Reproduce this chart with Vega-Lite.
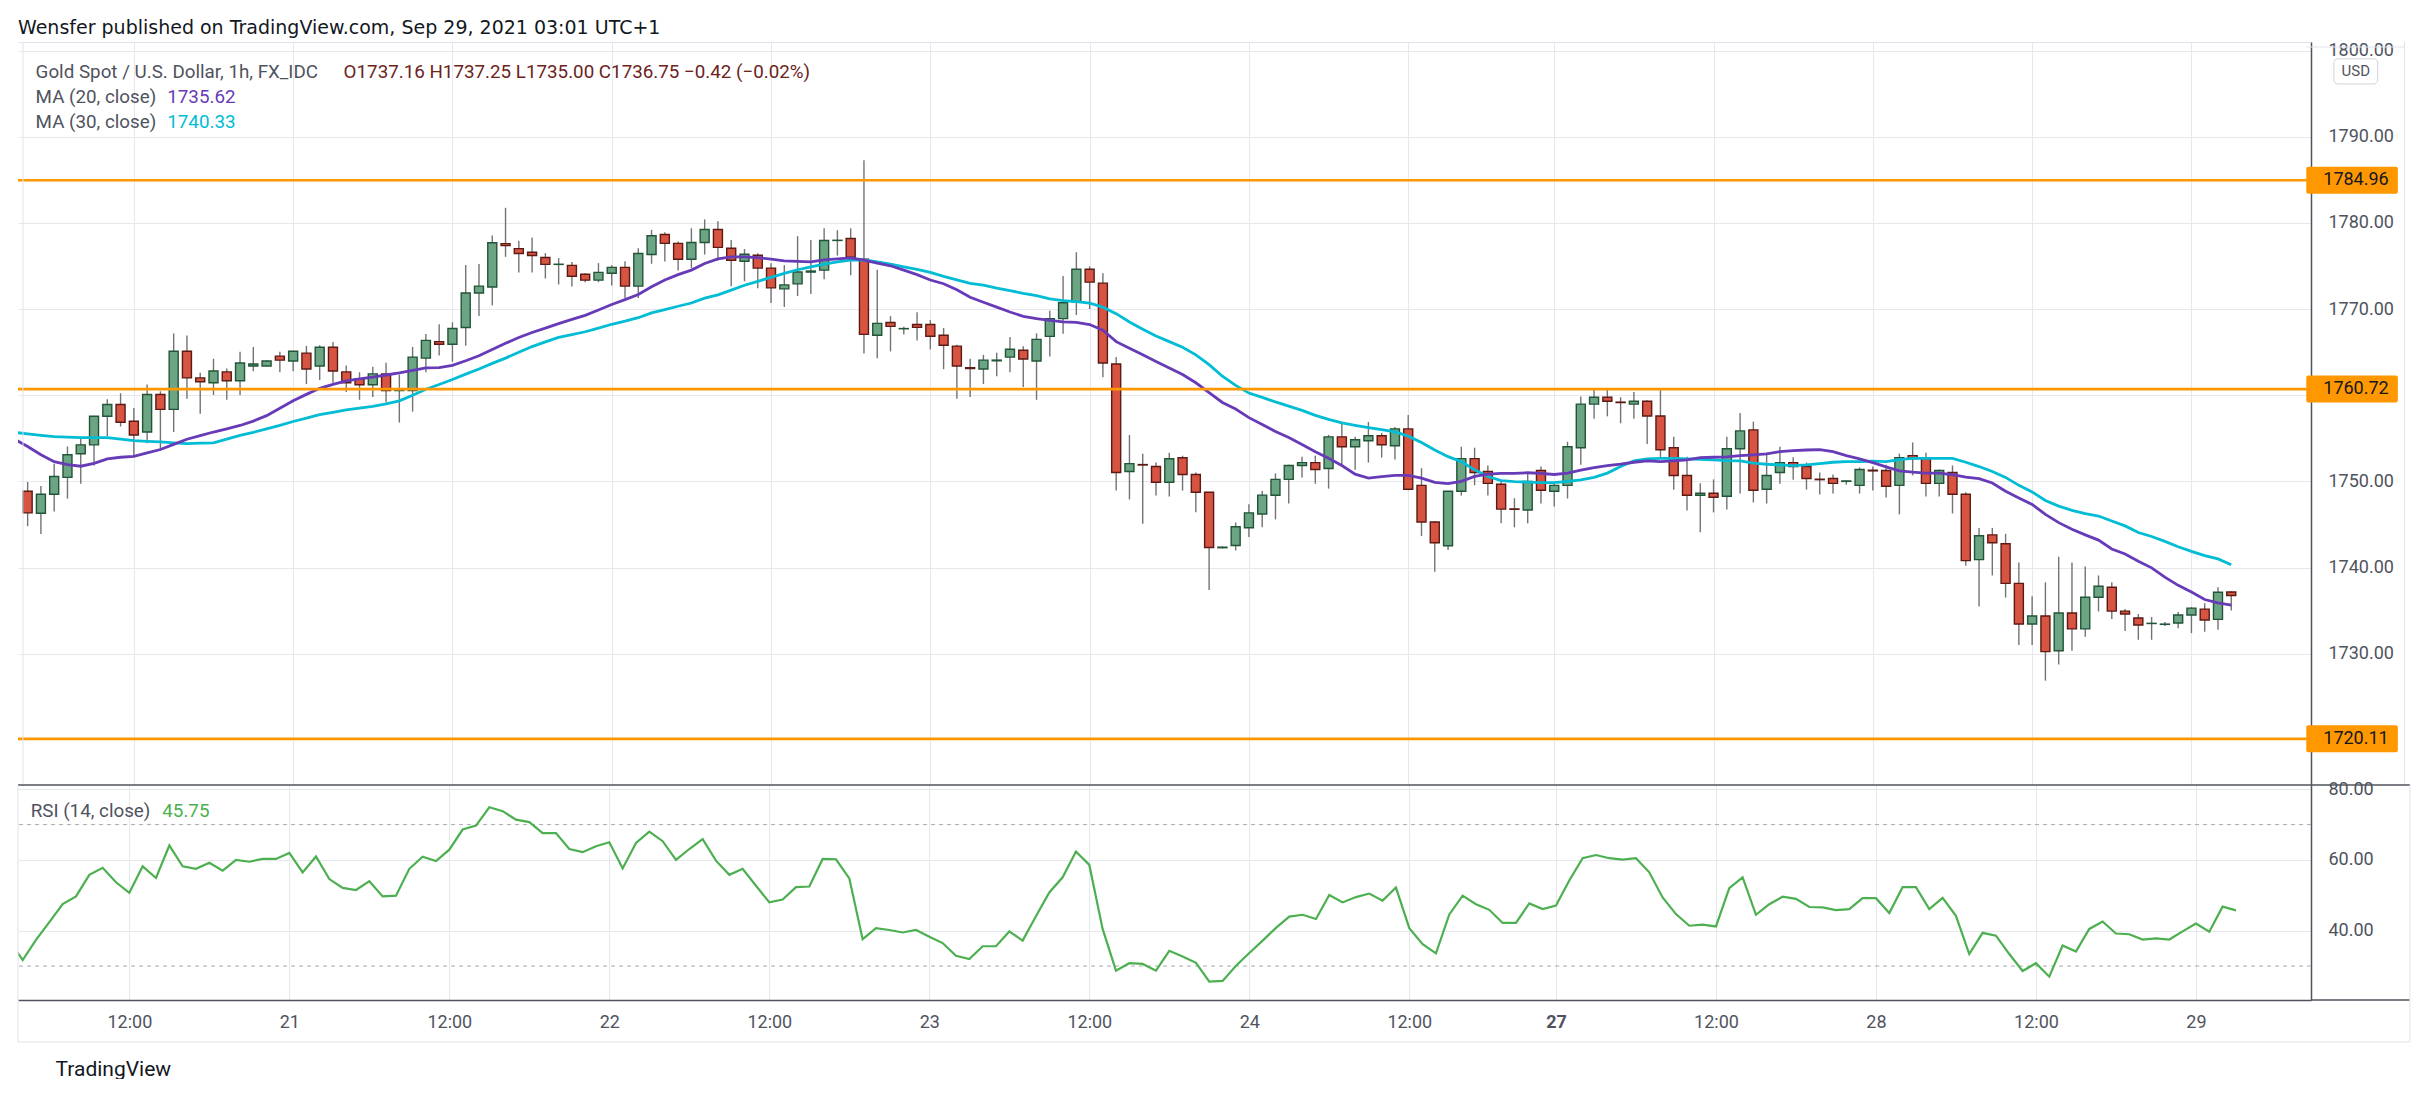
{
"$schema": "https://vega.github.io/schema/vega-lite/v6.json",
"background": "#ffffff",
"padding": {"left": 16, "top": 18, "right": 0, "bottom": 0},
"bounds": "flush",
"spacing": 0,
"title": {"text": "Wensfer published on TradingView.com, Sep 29, 2021 03:01 UTC+1", "anchor": "start", "frame": "group", "fontSize": 19, "fontWeight": "normal", "color": "#131722", "font": "DejaVu Sans", "offset": 4},
"datasets": {"bars": [
{"i":3,"m20":1754.9,"m30":1755.69,"r":37.3},
{"i":4,"o":1748.85,"h":1749.92,"l":1744.8,"c":1746.34,"m20":1754.05,"m30":1755.52,"r":31.7},
{"i":5,"o":1746.3,"h":1749.47,"l":1743.9,"c":1748.5,"m20":1753.1,"m30":1755.35,"r":37.4},
{"i":6,"o":1748.5,"h":1752.06,"l":1746.5,"c":1750.57,"m20":1752.29,"m30":1755.19,"r":42.4},
{"i":7,"o":1750.46,"h":1754.05,"l":1748.0,"c":1753.09,"m20":1751.95,"m30":1755.13,"r":47.5},
{"i":8,"o":1753.2,"h":1755.0,"l":1749.73,"c":1754.24,"m20":1751.76,"m30":1755.08,"r":49.7},
{"i":9,"o":1754.24,"h":1757.6,"l":1751.83,"c":1757.56,"m20":1752.1,"m30":1755.08,"r":55.8},
{"i":10,"o":1757.56,"h":1759.54,"l":1755.27,"c":1758.93,"m20":1752.6,"m30":1755.08,"r":57.8},
{"i":11,"o":1758.93,"h":1760.23,"l":1756.37,"c":1756.87,"m20":1752.8,"m30":1754.9,"r":53.7},
{"i":12,"o":1756.98,"h":1758.51,"l":1752.9,"c":1755.38,"m20":1752.9,"m30":1754.73,"r":50.7},
{"i":13,"o":1755.73,"h":1761.26,"l":1754.43,"c":1760.08,"m20":1753.3,"m30":1754.65,"r":58.2},
{"i":14,"o":1760.08,"h":1760.46,"l":1753.59,"c":1758.36,"m20":1753.7,"m30":1754.58,"r":54.9},
{"i":15,"o":1758.36,"h":1767.18,"l":1755.73,"c":1765.11,"m20":1754.3,"m30":1754.48,"r":64.1},
{"i":16,"o":1765.11,"h":1766.95,"l":1759.58,"c":1762.02,"m20":1754.89,"m30":1754.39,"r":58.2},
{"i":17,"o":1762.02,"h":1762.6,"l":1757.86,"c":1761.56,"m20":1755.3,"m30":1754.43,"r":57.5},
{"i":18,"o":1761.45,"h":1764.24,"l":1760.04,"c":1762.82,"m20":1755.73,"m30":1754.47,"r":59.2},
{"i":19,"o":1762.71,"h":1763.09,"l":1759.47,"c":1761.68,"m20":1756.1,"m30":1754.9,"r":57.0},
{"i":20,"o":1761.68,"h":1765.04,"l":1760.04,"c":1763.74,"m20":1756.49,"m30":1755.34,"r":60.0},
{"i":21,"o":1763.4,"h":1765.6,"l":1762.79,"c":1763.63,"m20":1757.0,"m30":1755.7,"r":59.5},
{"i":22,"o":1763.4,"h":1764.08,"l":1763.4,"c":1763.97,"m20":1757.63,"m30":1756.1,"r":60.3},
{"i":23,"o":1764.54,"h":1765.04,"l":1762.67,"c":1764.08,"m20":1758.5,"m30":1756.5,"r":60.3},
{"i":24,"o":1763.97,"h":1765.11,"l":1762.79,"c":1765.11,"m20":1759.35,"m30":1756.95,"r":62.0},
{"i":25,"o":1764.89,"h":1765.73,"l":1761.3,"c":1763.05,"m20":1760.1,"m30":1757.35,"r":56.5},
{"i":26,"o":1763.4,"h":1765.8,"l":1761.76,"c":1765.57,"m20":1760.8,"m30":1757.75,"r":61.0},
{"i":27,"o":1765.57,"h":1766.18,"l":1761.45,"c":1762.82,"m20":1761.25,"m30":1758.02,"r":54.6},
{"i":28,"o":1762.71,"h":1763.44,"l":1760.38,"c":1761.45,"m20":1761.66,"m30":1758.3,"r":52.1},
{"i":29,"o":1761.91,"h":1762.67,"l":1759.47,"c":1761.22,"m20":1761.9,"m30":1758.5,"r":51.5},
{"i":30,"o":1761.22,"h":1763.32,"l":1759.81,"c":1762.48,"m20":1762.1,"m30":1758.7,"r":54.0},
{"i":31,"o":1762.48,"h":1763.78,"l":1759.16,"c":1760.53,"m20":1762.35,"m30":1759.0,"r":49.7},
{"i":32,"o":1760.53,"h":1762.4,"l":1756.83,"c":1760.7,"m20":1762.6,"m30":1759.35,"r":49.9},
{"i":33,"o":1760.53,"h":1765.61,"l":1758.09,"c":1764.43,"m20":1762.9,"m30":1760.0,"r":57.5},
{"i":34,"o":1764.31,"h":1767.1,"l":1762.67,"c":1766.37,"m20":1763.17,"m30":1760.69,"r":60.9},
{"i":35,"o":1766.22,"h":1768.24,"l":1764.62,"c":1765.92,"m20":1763.2,"m30":1761.25,"r":59.7},
{"i":36,"o":1765.92,"h":1768.47,"l":1763.89,"c":1767.75,"m20":1763.47,"m30":1761.83,"r":62.9},
{"i":37,"o":1767.86,"h":1775.11,"l":1765.76,"c":1771.87,"m20":1764.0,"m30":1762.45,"r":68.6},
{"i":38,"o":1771.87,"h":1775.23,"l":1769.2,"c":1772.67,"m20":1764.58,"m30":1763.05,"r":69.7},
{"i":39,"o":1772.56,"h":1778.55,"l":1770.46,"c":1777.71,"m20":1765.3,"m30":1763.7,"r":74.9},
{"i":40,"o":1777.6,"h":1781.76,"l":1776.07,"c":1777.37,"m20":1766.03,"m30":1764.31,"r":73.8},
{"i":41,"o":1777.02,"h":1777.94,"l":1774.24,"c":1776.45,"m20":1766.7,"m30":1765.0,"r":71.4},
{"i":42,"o":1776.6,"h":1778.32,"l":1774.24,"c":1776.22,"m20":1767.29,"m30":1765.65,"r":70.7},
{"i":43,"o":1776.0,"h":1776.49,"l":1773.55,"c":1775.19,"m20":1767.8,"m30":1766.2,"r":67.6},
{"i":44,"o":1775.19,"h":1775.92,"l":1772.86,"c":1775.21,"m20":1768.32,"m30":1766.72,"r":67.6},
{"i":45,"o":1775.08,"h":1775.46,"l":1772.63,"c":1773.82,"m20":1768.8,"m30":1767.05,"r":63.1},
{"i":46,"o":1774.05,"h":1774.16,"l":1773.13,"c":1773.36,"m20":1769.27,"m30":1767.37,"r":62.2},
{"i":47,"o":1773.36,"h":1775.34,"l":1773.13,"c":1774.27,"m20":1769.9,"m30":1767.8,"r":63.9},
{"i":48,"o":1774.16,"h":1775.08,"l":1772.75,"c":1774.85,"m20":1770.53,"m30":1768.24,"r":65.0},
{"i":49,"o":1774.85,"h":1775.57,"l":1771.3,"c":1772.67,"m20":1771.1,"m30":1768.6,"r":57.6},
{"i":50,"o":1772.67,"h":1777.06,"l":1771.3,"c":1776.45,"m20":1771.7,"m30":1769.0,"r":64.8},
{"i":51,"o":1776.34,"h":1779.2,"l":1775.27,"c":1778.51,"m20":1772.6,"m30":1769.56,"r":68.0},
{"i":52,"o":1778.66,"h":1778.93,"l":1775.53,"c":1777.63,"m20":1773.38,"m30":1769.94,"r":65.3},
{"i":53,"o":1777.63,"h":1777.86,"l":1774.49,"c":1775.79,"m20":1774.0,"m30":1770.33,"r":60.0},
{"i":54,"o":1775.79,"h":1779.39,"l":1774.76,"c":1777.74,"m20":1774.53,"m30":1770.71,"r":63.1},
{"i":55,"o":1777.74,"h":1780.42,"l":1776.33,"c":1779.24,"m20":1775.3,"m30":1771.28,"r":65.9},
{"i":56,"o":1779.24,"h":1780.19,"l":1775.64,"c":1777.17,"m20":1775.83,"m30":1771.66,"r":59.8},
{"i":57,"o":1777.06,"h":1778.01,"l":1772.66,"c":1775.68,"m20":1776.06,"m30":1772.2,"r":55.8},
{"i":58,"o":1775.56,"h":1776.98,"l":1773.23,"c":1776.37,"m20":1776.06,"m30":1772.77,"r":57.5},
{"i":59,"o":1776.25,"h":1776.48,"l":1772.43,"c":1774.76,"m20":1775.98,"m30":1773.23,"r":52.7},
{"i":60,"o":1774.76,"h":1775.33,"l":1770.71,"c":1772.47,"m20":1775.79,"m30":1773.69,"r":48.0},
{"i":61,"o":1772.35,"h":1775.1,"l":1770.25,"c":1772.81,"m20":1775.6,"m30":1774.15,"r":48.8},
{"i":62,"o":1772.93,"h":1778.47,"l":1771.51,"c":1774.3,"m20":1775.53,"m30":1774.57,"r":52.3},
{"i":63,"o":1774.3,"h":1778.01,"l":1771.74,"c":1774.42,"m20":1775.49,"m30":1774.91,"r":52.5},
{"i":64,"o":1774.53,"h":1779.39,"l":1773.46,"c":1777.97,"m20":1775.72,"m30":1775.22,"r":60.3},
{"i":65,"o":1777.97,"h":1779.16,"l":1776.21,"c":1777.99,"m20":1775.83,"m30":1775.49,"r":60.2},
{"i":66,"o":1778.2,"h":1779.39,"l":1773.92,"c":1776.02,"m20":1775.95,"m30":1775.68,"r":54.8},
{"i":67,"o":1775.79,"h":1787.27,"l":1764.86,"c":1767.07,"m20":1775.68,"m30":1775.72,"r":37.6},
{"i":68,"o":1766.96,"h":1774.57,"l":1764.28,"c":1768.34,"m20":1775.33,"m30":1775.49,"r":40.7},
{"i":69,"o":1768.45,"h":1769.18,"l":1765.09,"c":1767.99,"m20":1775.03,"m30":1775.22,"r":40.2},
{"i":70,"o":1767.72,"h":1767.95,"l":1767.04,"c":1767.74,"m20":1774.53,"m30":1774.91,"r":39.5},
{"i":71,"o":1768.22,"h":1769.64,"l":1766.35,"c":1767.88,"m20":1774.0,"m30":1774.61,"r":40.2},
{"i":72,"o":1768.22,"h":1768.72,"l":1765.32,"c":1766.85,"m20":1773.38,"m30":1774.26,"r":38.3},
{"i":73,"o":1766.96,"h":1767.8,"l":1763.02,"c":1765.81,"m20":1772.95,"m30":1773.8,"r":36.5},
{"i":74,"o":1765.7,"h":1765.85,"l":1759.6,"c":1763.4,"m20":1772.25,"m30":1773.4,"r":32.9},
{"i":75,"o":1763.2,"h":1764.24,"l":1759.81,"c":1763.1,"m20":1771.37,"m30":1772.98,"r":32.0},
{"i":76,"o":1763.05,"h":1764.69,"l":1761.3,"c":1764.08,"m20":1770.8,"m30":1772.79,"r":35.6},
{"i":77,"o":1764.0,"h":1764.92,"l":1762.21,"c":1764.08,"m20":1770.23,"m30":1772.44,"r":35.6},
{"i":78,"o":1764.43,"h":1766.76,"l":1762.67,"c":1765.34,"m20":1769.66,"m30":1772.14,"r":39.8},
{"i":79,"o":1765.23,"h":1765.69,"l":1760.95,"c":1764.2,"m20":1769.16,"m30":1771.83,"r":37.2},
{"i":80,"o":1763.97,"h":1767.18,"l":1759.47,"c":1766.49,"m20":1768.89,"m30":1771.56,"r":44.1},
{"i":81,"o":1766.83,"h":1769.81,"l":1764.5,"c":1768.89,"m20":1768.7,"m30":1771.18,"r":50.8},
{"i":82,"o":1768.89,"h":1773.85,"l":1767.14,"c":1770.73,"m20":1768.51,"m30":1770.99,"r":55.1},
{"i":83,"o":1770.84,"h":1776.6,"l":1769.31,"c":1774.62,"m20":1768.47,"m30":1770.88,"r":62.4},
{"i":84,"o":1774.62,"h":1774.96,"l":1770.0,"c":1773.13,"m20":1768.21,"m30":1770.69,"r":58.6},
{"i":85,"o":1773.02,"h":1774.16,"l":1762.1,"c":1763.74,"m20":1767.56,"m30":1770.23,"r":40.5},
{"i":86,"o":1763.63,"h":1764.43,"l":1748.93,"c":1751.03,"m20":1766.22,"m30":1769.47,"r":28.7},
{"i":87,"o":1751.15,"h":1755.38,"l":1747.9,"c":1752.06,"m20":1765.46,"m30":1768.51,"r":30.8},
{"i":88,"o":1751.95,"h":1753.2,"l":1745.08,"c":1751.9,"m20":1764.69,"m30":1767.67,"r":30.6},
{"i":89,"o":1751.72,"h":1752.18,"l":1748.36,"c":1749.89,"m20":1763.93,"m30":1766.87,"r":28.7},
{"i":90,"o":1749.89,"h":1753.32,"l":1748.24,"c":1752.63,"m20":1763.17,"m30":1766.22,"r":34.3},
{"i":91,"o":1752.75,"h":1752.98,"l":1748.93,"c":1750.8,"m20":1762.4,"m30":1765.57,"r":32.7},
{"i":92,"o":1750.8,"h":1751.03,"l":1746.41,"c":1748.74,"m20":1761.45,"m30":1764.69,"r":30.9},
{"i":93,"o":1748.74,"h":1748.74,"l":1737.4,"c":1742.33,"m20":1760.31,"m30":1763.55,"r":25.6},
{"i":94,"o":1742.3,"h":1742.44,"l":1742.21,"c":1742.36,"m20":1759.16,"m30":1762.21,"r":25.8},
{"i":95,"o":1742.56,"h":1745.23,"l":1741.98,"c":1744.73,"m20":1758.4,"m30":1761.15,"r":30.1},
{"i":96,"o":1744.62,"h":1747.33,"l":1743.55,"c":1746.34,"m20":1757.4,"m30":1760.25,"r":33.7},
{"i":97,"o":1746.22,"h":1748.87,"l":1744.68,"c":1748.4,"m20":1756.6,"m30":1759.75,"r":37.2},
{"i":98,"o":1748.39,"h":1750.92,"l":1745.59,"c":1750.23,"m20":1755.8,"m30":1759.22,"r":40.8},
{"i":99,"o":1750.23,"h":1751.92,"l":1747.43,"c":1751.84,"m20":1755.1,"m30":1758.74,"r":44.0},
{"i":100,"o":1751.84,"h":1752.87,"l":1750.46,"c":1752.18,"m20":1754.29,"m30":1758.24,"r":44.5},
{"i":101,"o":1752.18,"h":1752.99,"l":1749.73,"c":1751.38,"m20":1753.45,"m30":1757.66,"r":43.3},
{"i":102,"o":1751.49,"h":1755.4,"l":1749.16,"c":1755.17,"m20":1752.68,"m30":1757.2,"r":50.1},
{"i":103,"o":1755.17,"h":1756.78,"l":1751.84,"c":1754.02,"m20":1751.84,"m30":1756.78,"r":48.0},
{"i":104,"o":1754.02,"h":1755.17,"l":1751.34,"c":1754.83,"m20":1750.84,"m30":1756.51,"r":49.5},
{"i":105,"o":1754.71,"h":1756.9,"l":1752.18,"c":1755.29,"m20":1750.38,"m30":1756.25,"r":50.5},
{"i":106,"o":1755.29,"h":1755.63,"l":1752.76,"c":1754.25,"m20":1750.54,"m30":1756.02,"r":48.5},
{"i":107,"o":1754.14,"h":1756.32,"l":1752.53,"c":1756.09,"m20":1750.69,"m30":1755.75,"r":52.2},
{"i":108,"o":1756.09,"h":1757.7,"l":1748.97,"c":1749.08,"m20":1750.69,"m30":1755.25,"r":40.7},
{"i":109,"o":1749.54,"h":1751.53,"l":1743.64,"c":1745.29,"m20":1750.38,"m30":1754.52,"r":36.2},
{"i":110,"o":1745.29,"h":1745.4,"l":1739.5,"c":1742.87,"m20":1749.89,"m30":1753.64,"r":33.6},
{"i":111,"o":1742.53,"h":1748.85,"l":1742.03,"c":1748.85,"m20":1749.73,"m30":1752.87,"r":44.6},
{"i":112,"o":1748.85,"h":1754.02,"l":1748.35,"c":1752.64,"m20":1750.0,"m30":1752.3,"r":49.9},
{"i":113,"o":1752.64,"h":1753.91,"l":1749.54,"c":1751.03,"m20":1750.57,"m30":1751.34,"r":47.5},
{"i":114,"o":1751.15,"h":1751.84,"l":1748.35,"c":1749.77,"m20":1750.84,"m30":1750.57,"r":45.9},
{"i":115,"o":1749.66,"h":1750.0,"l":1745.13,"c":1746.78,"m20":1750.92,"m30":1750.08,"r":42.2},
{"i":116,"o":1746.8,"h":1748.05,"l":1744.67,"c":1746.76,"m20":1750.92,"m30":1749.96,"r":42.2},
{"i":117,"o":1746.67,"h":1750.92,"l":1745.13,"c":1750.0,"m20":1751.0,"m30":1749.92,"r":47.7},
{"i":118,"o":1751.26,"h":1751.72,"l":1747.43,"c":1748.97,"m20":1750.92,"m30":1749.85,"r":46.1},
{"i":119,"o":1748.85,"h":1749.92,"l":1747.09,"c":1749.54,"m20":1750.8,"m30":1749.85,"r":47.1},
{"i":120,"o":1749.54,"h":1754.6,"l":1748.01,"c":1754.02,"m20":1750.95,"m30":1750.0,"r":54.2},
{"i":121,"o":1753.91,"h":1759.85,"l":1751.92,"c":1758.97,"m20":1751.3,"m30":1750.17,"r":60.5},
{"i":122,"o":1758.97,"h":1760.65,"l":1757.28,"c":1759.77,"m20":1751.61,"m30":1750.46,"r":61.4},
{"i":123,"o":1759.77,"h":1760.65,"l":1757.55,"c":1759.31,"m20":1751.84,"m30":1750.96,"r":60.5},
{"i":124,"o":1759.2,"h":1759.77,"l":1756.74,"c":1759.15,"m20":1751.99,"m30":1751.72,"r":60.1},
{"i":125,"o":1758.97,"h":1760.38,"l":1757.28,"c":1759.31,"m20":1752.22,"m30":1752.38,"r":60.5},
{"i":126,"o":1759.31,"h":1759.43,"l":1754.33,"c":1757.59,"m20":1752.38,"m30":1752.61,"r":56.5},
{"i":127,"o":1757.59,"h":1760.65,"l":1752.61,"c":1753.68,"m20":1752.3,"m30":1752.68,"r":49.4},
{"i":128,"o":1753.91,"h":1755.17,"l":1749.04,"c":1750.69,"m20":1752.38,"m30":1752.68,"r":44.7},
{"i":129,"o":1750.69,"h":1752.87,"l":1746.63,"c":1748.39,"m20":1752.49,"m30":1752.61,"r":41.4},
{"i":130,"o":1748.39,"h":1749.77,"l":1744.1,"c":1748.62,"m20":1752.76,"m30":1752.57,"r":41.7},
{"i":131,"o":1748.62,"h":1750.23,"l":1746.4,"c":1748.16,"m20":1752.8,"m30":1752.49,"r":41.2},
{"i":132,"o":1748.28,"h":1755.17,"l":1746.74,"c":1753.79,"m20":1752.84,"m30":1752.41,"r":52.0},
{"i":133,"o":1753.79,"h":1757.93,"l":1748.58,"c":1755.86,"m20":1752.99,"m30":1752.38,"r":55.1},
{"i":134,"o":1755.98,"h":1756.93,"l":1747.55,"c":1748.97,"m20":1753.07,"m30":1752.11,"r":44.5},
{"i":135,"o":1749.08,"h":1753.33,"l":1747.43,"c":1750.69,"m20":1753.18,"m30":1751.99,"r":47.5},
{"i":136,"o":1751.03,"h":1754.02,"l":1749.73,"c":1752.18,"m20":1753.45,"m30":1751.92,"r":49.6},
{"i":137,"o":1752.18,"h":1752.8,"l":1750.19,"c":1751.72,"m20":1753.56,"m30":1751.84,"r":49.0},
{"i":138,"o":1751.72,"h":1752.18,"l":1749.04,"c":1750.34,"m20":1753.64,"m30":1751.92,"r":46.7},
{"i":139,"o":1750.25,"h":1751.03,"l":1748.47,"c":1750.2,"m20":1753.68,"m30":1752.07,"r":46.6},
{"i":140,"o":1750.34,"h":1750.8,"l":1748.58,"c":1749.77,"m20":1753.45,"m30":1752.22,"r":45.8},
{"i":141,"o":1750.0,"h":1750.1,"l":1749.62,"c":1750.05,"m20":1752.99,"m30":1752.3,"r":46.1},
{"i":142,"o":1749.54,"h":1751.61,"l":1748.58,"c":1751.38,"m20":1752.61,"m30":1752.3,"r":49.2},
{"i":143,"o":1751.3,"h":1751.72,"l":1748.93,"c":1751.22,"m20":1752.17,"m30":1752.34,"r":49.2},
{"i":144,"o":1751.26,"h":1751.92,"l":1748.14,"c":1749.43,"m20":1751.68,"m30":1752.3,"r":45.0},
{"i":145,"o":1749.54,"h":1753.22,"l":1746.17,"c":1752.76,"m20":1751.23,"m30":1752.53,"r":52.3},
{"i":146,"o":1752.99,"h":1754.52,"l":1750.69,"c":1752.64,"m20":1751.07,"m30":1752.68,"r":52.3},
{"i":147,"o":1752.64,"h":1753.33,"l":1748.24,"c":1749.77,"m20":1750.96,"m30":1752.68,"r":46.1},
{"i":148,"o":1749.77,"h":1751.38,"l":1748.24,"c":1751.26,"m20":1750.96,"m30":1752.68,"r":49.3},
{"i":149,"o":1751.03,"h":1751.84,"l":1746.28,"c":1748.51,"m20":1750.77,"m30":1752.68,"r":44.2},
{"i":150,"o":1748.51,"h":1748.74,"l":1740.19,"c":1740.8,"m20":1750.5,"m30":1752.22,"r":33.4},
{"i":151,"o":1740.92,"h":1744.6,"l":1735.48,"c":1743.68,"m20":1750.31,"m30":1751.72,"r":39.4},
{"i":152,"o":1743.79,"h":1744.6,"l":1739.08,"c":1742.87,"m20":1749.81,"m30":1751.15,"r":38.6},
{"i":153,"o":1742.76,"h":1743.91,"l":1736.51,"c":1738.16,"m20":1748.85,"m30":1750.46,"r":33.4},
{"i":154,"o":1738.16,"h":1740.57,"l":1731.0,"c":1733.45,"m20":1748.08,"m30":1749.54,"r":28.6},
{"i":155,"o":1733.45,"h":1736.67,"l":1731.0,"c":1734.37,"m20":1747.32,"m30":1748.77,"r":30.8},
{"i":156,"o":1734.37,"h":1738.28,"l":1726.86,"c":1730.23,"m20":1746.17,"m30":1747.78,"r":27.0},
{"i":157,"o":1730.34,"h":1741.26,"l":1728.74,"c":1734.71,"m20":1745.21,"m30":1747.13,"r":35.8},
{"i":158,"o":1734.71,"h":1740.57,"l":1730.34,"c":1732.87,"m20":1744.44,"m30":1746.63,"r":34.1},
{"i":159,"o":1732.87,"h":1740.11,"l":1731.95,"c":1736.55,"m20":1743.79,"m30":1746.25,"r":40.5},
{"i":160,"o":1736.55,"h":1739.08,"l":1734.9,"c":1737.82,"m20":1743.18,"m30":1745.98,"r":42.6},
{"i":161,"o":1737.7,"h":1738.28,"l":1734.02,"c":1734.94,"m20":1742.15,"m30":1745.4,"r":39.2},
{"i":162,"o":1734.94,"h":1735.17,"l":1732.64,"c":1734.6,"m20":1741.57,"m30":1744.83,"r":39.0},
{"i":163,"o":1734.14,"h":1734.6,"l":1731.61,"c":1733.33,"m20":1740.73,"m30":1744.06,"r":37.5},
{"i":164,"o":1733.5,"h":1734.25,"l":1731.61,"c":1733.52,"m20":1739.96,"m30":1743.6,"r":37.8},
{"i":165,"o":1733.4,"h":1733.68,"l":1733.22,"c":1733.43,"m20":1738.89,"m30":1743.03,"r":37.5},
{"i":166,"o":1733.56,"h":1734.83,"l":1732.95,"c":1734.48,"m20":1737.93,"m30":1742.41,"r":39.8},
{"i":167,"o":1734.48,"h":1735.4,"l":1732.38,"c":1735.29,"m20":1737.16,"m30":1741.88,"r":42.0},
{"i":168,"o":1735.17,"h":1735.86,"l":1732.53,"c":1733.91,"m20":1736.28,"m30":1741.38,"r":39.7},
{"i":169,"o":1733.98,"h":1737.7,"l":1732.76,"c":1737.13,"m20":1735.9,"m30":1741.0,"r":46.8},
{"i":170,"o":1737.16,"h":1737.25,"l":1735.0,"c":1736.75,"m20":1735.62,"m30":1740.33,"r":45.75}
]},
"vconcat": [
{
"width": 2293, "height": 743,
"data": {"name": "bars"},
"layer": [
{"mark": {"type": "rule", "color": "#737375", "strokeWidth": 1.4},
 "encoding": {
  "x": {"field": "i", "type": "quantitative", "scale": {"domain": [3.65, 175.63], "nice": false, "zero": false},
        "axis": {"orient": "top", "values": [12,24,36,48,60,72,84,96,108,119,131,143,155,167], "labels": false, "ticks": false, "domain": true, "domainColor": "#e0e3eb", "domainWidth": 1, "grid": true, "title": null}},
  "y": {"field": "l", "type": "quantitative", "scale": {"domain": [1715.33, 1800.43], "nice": false, "zero": false},
        "axis": {"orient": "right", "values": [1730,1740,1750,1760,1770,1780,1790,1800], "labelExpr": "datum.value == 1760 ? '' : format(datum.value, '.2f')", "grid": true, "labelPadding": 17, "labelAlign": "left", "labelBaseline": "middle", "title": null}},
  "y2": {"field": "h"}
 }},
{"mark": {"type": "bar", "width": 9, "strokeWidth": 1.4},
 "encoding": {
  "x": {"field": "i", "type": "quantitative"},
  "y": {"field": "o", "type": "quantitative"},
  "y2": {"field": "c"},
  "fill": {"condition": {"test": "datum.c >= datum.o", "value": "#6ba583"}, "value": "#d75442"},
  "stroke": {"condition": {"test": "datum.c >= datum.o", "value": "#225437"}, "value": "#5b1a13"}
 }},
{"mark": {"type": "line", "color": "#00bcd4", "strokeWidth": 2.8, "clip": true},
 "encoding": {"x": {"field": "i", "type": "quantitative"}, "y": {"field": "m30", "type": "quantitative"}}},
{"mark": {"type": "line", "color": "#673ab7", "strokeWidth": 2.8, "clip": true},
 "encoding": {"x": {"field": "i", "type": "quantitative"}, "y": {"field": "m20", "type": "quantitative"}}},
{"data": {"values": [{"p": 1784.96}, {"p": 1760.72}, {"p": 1720.11}]},
 "mark": {"type": "rule", "color": "#ff9800", "strokeWidth": 2.7},
 "encoding": {"y": {"field": "p", "type": "quantitative"}}},
{"data": {"values": [{"p": 1784.96}, {"p": 1760.72}, {"p": 1720.11}]},
 "mark": {"type": "bar", "color": "#ff9800", "height": 27, "cornerRadius": 2},
 "encoding": {"x": {"datum": 175.65}, "x2": {"datum": 182.55}, "y": {"field": "p", "type": "quantitative"}}},
{"data": {"values": [{"p": 1784.96}, {"p": 1760.72}, {"p": 1720.11}]},
 "mark": {"type": "text", "align": "left", "baseline": "middle", "dx": 17, "fontSize": 18, "color": "#131722"},
 "encoding": {"x": {"datum": 175.65}, "y": {"field": "p", "type": "quantitative"}, "text": {"field": "p", "type": "quantitative", "format": ".2f"}}},
{"data": {"values": [{}]},
 "mark": {"type": "rect", "fill": "#ffffff", "stroke": "#d1d4dc", "strokeWidth": 1, "cornerRadius": 4},
 "encoding": {"x": {"datum": 177.73}, "x2": {"datum": 181.03}, "y": {"datum": 1799.06}, "y2": {"datum": 1796.14}}},
{"data": {"values": [{}]},
 "mark": {"type": "text", "align": "center", "baseline": "middle", "fontSize": 15, "color": "#50535e", "text": "USD"},
 "encoding": {"x": {"datum": 179.38}, "y": {"datum": 1797.6}}},
{"data": {"values": [{}]},
 "mark": {"type": "rule", "color": "#e0e3eb", "strokeWidth": 1},
 "encoding": {"x": {"datum": 3.65}}},
{"data": {"values": [{}]},
 "mark": {"type": "rule", "color": "#e0e3eb", "strokeWidth": 1},
 "encoding": {"x": {"datum": 183.05}}},
{"data": {"values": [{}]},
 "mark": {"type": "rule", "color": "#e0e3eb", "strokeWidth": 1},
 "encoding": {"x": {"datum": 175.63}, "x2": {"datum": 183.05}, "y": {"datum": 1800.43}}},
{"data": {"values": [{}]},
 "mark": {"type": "text", "align": "left", "baseline": "middle", "fontSize": 18.8, "color": "#50535e", "text": "Gold Spot / U.S. Dollar, 1h, FX_IDC"},
 "encoding": {"x": {"datum": 4.6}, "y": {"datum": 1797.54}}},
{"data": {"values": [{}]},
 "mark": {"type": "text", "align": "left", "baseline": "middle", "dx": 308, "fontSize": 18.8, "color": "#6b231b", "text": "O1737.16  H1737.25  L1735.00  C1736.75  −0.42 (−0.02%)"},
 "encoding": {"x": {"datum": 4.6}, "y": {"datum": 1797.54}}},
{"data": {"values": [{}]},
 "mark": {"type": "text", "align": "left", "baseline": "middle", "fontSize": 18.8, "color": "#50535e", "text": "MA (20, close)"},
 "encoding": {"x": {"datum": 4.6}, "y": {"datum": 1794.59}}},
{"data": {"values": [{}]},
 "mark": {"type": "text", "align": "left", "baseline": "middle", "dx": 131.6, "fontSize": 18.8, "color": "#673ab7", "text": "1735.62"},
 "encoding": {"x": {"datum": 4.6}, "y": {"datum": 1794.59}}},
{"data": {"values": [{}]},
 "mark": {"type": "text", "align": "left", "baseline": "middle", "fontSize": 18.8, "color": "#50535e", "text": "MA (30, close)"},
 "encoding": {"x": {"datum": 4.6}, "y": {"datum": 1791.7}}},
{"data": {"values": [{}]},
 "mark": {"type": "text", "align": "left", "baseline": "middle", "dx": 131.6, "fontSize": 18.8, "color": "#00bcd4", "text": "1740.33"},
 "encoding": {"x": {"datum": 4.6}, "y": {"datum": 1791.7}}}
]
},
{
"width": 2293, "height": 215,
"data": {"name": "bars"},
"layer": [
{"data": {"values": [{"v": 70}, {"v": 30}]},
 "mark": {"type": "rule", "color": "#a8abb4", "strokeDash": [4, 4], "strokeWidth": 1},
 "encoding": {"y": {"field": "v", "type": "quantitative", "scale": {"domain": [20.4, 81.2], "nice": false, "zero": false},
   "axis": {"orient": "right", "values": [40, 60, 80], "format": ".2f", "grid": true, "labelPadding": 17, "labelAlign": "left", "labelBaseline": "middle", "title": null}}}},
{"mark": {"type": "line", "color": "#4caf50", "strokeWidth": 2.2, "clip": true},
 "encoding": {
  "x": {"field": "i", "type": "quantitative", "scale": {"domain": [3.65, 175.63], "nice": false, "zero": false},
        "axis": {"orient": "bottom", "values": [12,24,36,48,60,72,84,96,108,119,131,143,155,167],
                 "labelExpr": "['12:00','21','12:00','22','12:00','23','12:00','24','12:00','27','12:00','28','12:00','29'][indexof([12,24,36,48,60,72,84,96,108,119,131,143,155,167], datum.value)]",
                 "labelFontWeight": {"condition": {"test": "datum.value == 119", "value": "bold"}, "value": "normal"},
                 "labelPadding": 13, "ticks": false, "domain": true, "grid": true,
                 "title": "TradingView", "titleAnchor": "start", "titleAlign": "left", "titleX": 37, "titleFontSize": 21, "titleFontWeight": "normal", "titleColor": "#131722", "titlePadding": 27}},
  "y": {"field": "r", "type": "quantitative"}
 }},
{"data": {"values": [{}]},
 "mark": {"type": "rule", "color": "#50535e", "strokeWidth": 1.5},
 "encoding": {"x": {"datum": 3.65}, "x2": {"datum": 183.05}, "y": {"datum": 81.2}}},
{"data": {"values": [{}]},
 "mark": {"type": "rule", "color": "#50535e", "strokeWidth": 1.5},
 "encoding": {"x": {"datum": 175.63}, "x2": {"datum": 183.05}, "y": {"datum": 20.4}}},
{"data": {"values": [{}]},
 "mark": {"type": "rule", "color": "#e0e3eb", "strokeWidth": 1},
 "encoding": {"x": {"datum": 3.65}, "y": {"datum": 81.2}, "y2": {"datum": 8.52}}},
{"data": {"values": [{}]},
 "mark": {"type": "rule", "color": "#e0e3eb", "strokeWidth": 1},
 "encoding": {"x": {"datum": 183.05}, "y": {"datum": 81.2}, "y2": {"datum": 8.52}}},
{"data": {"values": [{}]},
 "mark": {"type": "rule", "color": "#e0e3eb", "strokeWidth": 1},
 "encoding": {"x": {"datum": 3.65}, "x2": {"datum": 183.05}, "y": {"datum": 8.52}}},
{"data": {"values": [{}]},
 "mark": {"type": "text", "align": "left", "baseline": "middle", "fontSize": 18.8, "color": "#50535e", "text": "RSI (14, close)"},
 "encoding": {"x": {"datum": 4.6}, "y": {"datum": 73.87}}},
{"data": {"values": [{}]},
 "mark": {"type": "text", "align": "left", "baseline": "middle", "dx": 131.6, "fontSize": 18.8, "color": "#4caf50", "text": "45.75"},
 "encoding": {"x": {"datum": 4.6}, "y": {"datum": 73.87}}}
]
}
],
"config": {
 "font": "Roboto",
 "view": {"stroke": null},
 "axis": {"gridColor": "#e6e8ee", "gridWidth": 1, "labelFont": "Roboto", "labelFontSize": 18, "labelColor": "#50535e", "ticks": false, "domainColor": "#50535e", "domainWidth": 1.5, "labelOverlap": false, "labelFlush": false, "labelBound": false}
}
}
